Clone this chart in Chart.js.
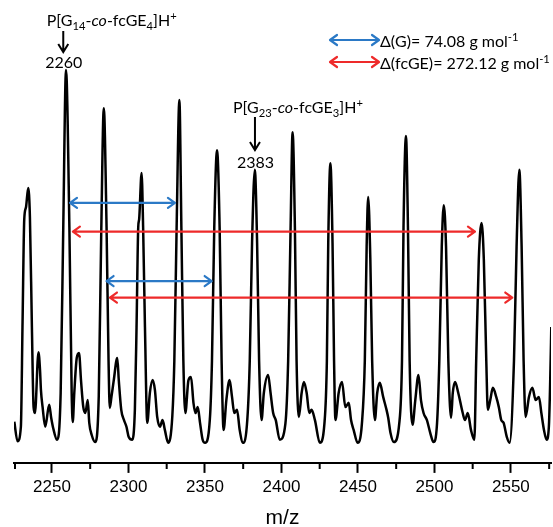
<!DOCTYPE html>
<html>
<head>
<meta charset="utf-8">
<script src="https://cdn.jsdelivr.net/npm/chart.js@4.4.0/dist/chart.umd.min.js"></script>
<style>
  html, body { margin: 0; padding: 0; background: #fff; }
  #wrap { width: 553px; height: 527px; position: relative; }
</style>
</head>
<body>
<div id="wrap"><canvas id="spectrum"></canvas></div>
<script>
// spectrum trace (m/z, relative intensity)
const mzValues = [
  2225.4, 2227.5, 2229.7, 2230.8, 2231.9, 2233.0, 2234.5, 2235.6, 2236.9, 2238.0, 2238.9, 2241.2, 2242.2, 2242.8, 2243.9, 2245.6, 2248.2, 2249.5, 2250.8, 2253.3,
  2255.7, 2257.4, 2259.2, 2261.4, 2262.9, 2263.6, 2264.6, 2266.2, 2267.7, 2269.0, 2270.5, 2271.8, 2273.4, 2274.4, 2276.0, 2278.2,
  2280.6, 2282.2, 2283.9, 2285.7, 2287.0, 2287.8, 2288.9, 2290.4, 2292.7, 2293.7, 2295.3, 2297.0, 2298.7, 2300.2, 2302.5,
  2304.2, 2305.3, 2306.4, 2307.0, 2308.6, 2309.6, 2310.8, 2312.3, 2314.0, 2315.8, 2317.3, 2318.8, 2320.6, 2322.3, 2323.8, 2326.0,
  2328.7, 2330.0, 2331.5, 2333.3, 2334.6, 2335.9, 2337.2, 2339.2, 2340.9, 2342.5, 2343.8, 2345.3, 2346.8, 2348.5, 2350.1,
  2353.2, 2354.6, 2356.1, 2357.9, 2359.6, 2360.9, 2362.2, 2364.0, 2366.1, 2367.7, 2369.2, 2371.0, 2372.7, 2374.9,
  2377.7, 2379.3, 2380.8, 2382.6, 2384.1, 2385.4, 2387.0, 2388.5, 2391.3, 2392.9, 2394.6, 2396.3, 2398.9,
  2402.6, 2404.4, 2406.0, 2407.3, 2408.8, 2409.9, 2411.4, 2413.2, 2414.7, 2416.5, 2418.2, 2419.7, 2421.9, 2425.1,
  2428.1, 2429.7, 2430.6, 2432.0, 2433.4, 2434.4, 2435.3, 2437.4, 2439.6, 2441.8, 2444.0, 2445.5, 2447.2, 2449.8,
  2452.6, 2454.5, 2455.7, 2456.7, 2458.1, 2459.3, 2461.1, 2462.6, 2464.3, 2466.5, 2468.7, 2469.8, 2471.3, 2473.5,
  2477.0, 2478.8, 2479.8, 2481.4, 2482.7, 2483.8, 2485.7, 2487.5, 2489.6, 2491.2, 2492.9, 2495.1, 2497.3, 2499.4,
  2501.7, 2503.2, 2504.8, 2506.1, 2507.6, 2509.1, 2510.9, 2512.0, 2513.5, 2515.6, 2518.5, 2520.0, 2521.8, 2523.9, 2526.1,
  2527.3, 2529.0, 2530.8, 2532.3, 2533.9, 2534.9, 2536.5, 2538.2, 2540.4, 2542.1, 2543.7, 2545.2, 2547.3, 2549.1,
  2552.0, 2553.7, 2555.5, 2557.0, 2558.3, 2559.6, 2561.8, 2564.0, 2566.2, 2568.3, 2569.9, 2571.6, 2573.3, 2574.8, 2576.4, 2577.5
];
const intensity = [
  10.5, 5.5, 9.2, 36, 62, 65, 70, 62.6, 34.6, 14.2, 12.7, 28.2, 23.7, 18.6, 14.2, 9.2, 14.8, 11.5, 8.9, 5.9,
  17.8, 60, 100, 60, 17.8, 10.4, 17.8, 26.7, 28, 21, 14.2, 12.7, 16, 10.2, 7.1, 5.3,
  17, 58, 90.3, 60, 26, 14, 16.8, 21, 26.7, 21, 13.5, 11, 9.2, 6.6, 5.9,
  13.5, 34.6, 60, 62, 73.8, 60, 34.6, 10.2, 17.8, 21.1, 18.6, 11.7, 9.2, 10.9, 8.4, 5.1,
  12, 26, 60, 92.4, 60, 26, 12.7, 21, 21.9, 15.3, 12.7, 14.2, 10.2, 5.9, 5.1,
  11, 26, 60, 79.6, 60, 26, 8.4, 16, 21.1, 16.8, 12.7, 13.5, 8.4, 5.1,
  11, 26, 56, 74.6, 56, 26, 10.9, 17.8, 22.4, 17.8, 12.7, 10.9, 5.9,
  10, 26, 60, 84.2, 60, 26, 11.7, 17.8, 20.6, 17.8, 12.7, 13.5, 10.9, 5.1,
  10, 26, 56, 76.3, 56, 26, 10.9, 17.8, 20.6, 14.2, 15.3, 10.9, 8.4, 5.1,
  10, 26, 55, 67.7, 52, 26, 10.9, 17.8, 20.4, 16.8, 13.5, 11.5, 7.6, 5.3,
  10, 26, 60, 83.2, 60, 26, 9.7, 16, 22.4, 16, 12.7, 10.9, 7.6, 5.3,
  10, 26, 55, 65.6, 55, 26, 11.5, 17.8, 20.6, 17.8, 12.7, 10.9, 12.7, 8.4, 5.9,
  26, 51.7, 61.1, 51.7, 26, 13.5, 16, 19.1, 16.8, 14.2, 10.9, 10.2, 6.6, 5.1,
  26, 55, 74.6, 55, 26, 11.7, 16.8, 19.1, 16, 16.8, 12.7, 8.4, 5.9, 9.2, 34.6, 60
];

const tickValues = [2250, 2300, 2350, 2400, 2450, 2500, 2550];
const minorTickValues = [2225, 2275, 2325, 2375, 2425, 2475, 2525, 2575];

// spacing arrows between peaks
const gapArrowStart = [2261.8, 2263.7, 2285.7, 2287.9];
const gapArrowEnd = [2330.4, 2526.5, 2354.4, 2550.9];
const gapArrowLevel = [66.2, 58.9, 46.3, 42.1];
const gapArrowUnit = ['G', 'fcGE', 'G', 'fcGE'];

// labelled peaks
const peakLabelMz = [2257.4, 2382.7];
const peakLabelValue = ['2260', '2383'];

const BLUE = '#2B79C6';
const RED = '#EE2A2A';
const unitColor = { G: BLUE, fcGE: RED };
const ANNO_FONT = 'Lato, "Open Sans", sans-serif';

function drawRich(ctx, parts, x, y, size) {
  parts.forEach(p => {
    const small = p.sub || p.sup;
    const fs = small ? size * 0.7 : size;
    ctx.font = (p.italic ? 'italic ' : '') + fs + 'px ' + ANNO_FONT;
    const dy = p.sub ? size * 0.22 : p.sup ? -size * 0.36 : 0;
    ctx.fillText(p.t, x, y + dy);
    x += ctx.measureText(p.t).width;
  });
}

function drawDoubleArrow(ctx, x1, x2, y, color) {
  ctx.save();
  ctx.strokeStyle = color;
  ctx.lineWidth = 2.2;
  ctx.lineCap = 'round';
  ctx.lineJoin = 'round';
  ctx.beginPath();
  ctx.moveTo(x1, y); ctx.lineTo(x2, y);
  ctx.moveTo(x1 + 7, y - 5); ctx.lineTo(x1, y); ctx.lineTo(x1 + 7, y + 5);
  ctx.moveTo(x2 - 7, y - 5); ctx.lineTo(x2, y); ctx.lineTo(x2 - 7, y + 5);
  ctx.stroke();
  ctx.restore();
}

function drawDownArrow(ctx, x, y1, y2) {
  ctx.save();
  ctx.strokeStyle = '#000';
  ctx.lineWidth = 2;
  ctx.beginPath();
  ctx.moveTo(x, y1); ctx.lineTo(x, y2);
  ctx.moveTo(x - 5, y2 - 8); ctx.lineTo(x, y2); ctx.lineTo(x + 5, y2 - 8);
  ctx.stroke();
  ctx.restore();
}

const annotations = {
  id: 'annotations',
  afterDraw(chart) {
    const ctx = chart.ctx;
    const xs = chart.scales.x, ys = chart.scales.y;
    const area = chart.chartArea;

    // minor ticks
    ctx.save();
    ctx.strokeStyle = '#000';
    ctx.lineWidth = 2;
    ctx.beginPath();
    minorTickValues.forEach(v => {
      let px = xs.getPixelForValue(v);
      px = Math.min(Math.max(px, area.left + 1), area.right - 1);
      ctx.moveTo(px, area.bottom); ctx.lineTo(px, area.bottom + 6);
    });
    ctx.stroke();
    ctx.restore();

    // gap arrows
    gapArrowStart.forEach((s, i) => {
      drawDoubleArrow(ctx, xs.getPixelForValue(s), xs.getPixelForValue(gapArrowEnd[i]),
        ys.getPixelForValue(gapArrowLevel[i]), unitColor[gapArrowUnit[i]]);
    });

    ctx.save();
    ctx.fillStyle = '#000';
    ctx.textBaseline = 'alphabetic';

    // peak labels
    const labelParts = [
      [{t: 'P[G'}, {t: '14', sub: true}, {t: '-'}, {t: 'co', italic: true}, {t: '-fcGE'}, {t: '4', sub: true}, {t: ']H'}, {t: '+', sup: true}],
      [{t: 'P[G'}, {t: '23', sub: true}, {t: '-'}, {t: 'co', italic: true}, {t: '-fcGE'}, {t: '3', sub: true}, {t: ']H'}, {t: '+', sup: true}]
    ];
    const labelLayout = [
      {dx: -16.5, textY: 26, a1: 31, a2: 52, numY: 68},
      {dx: -22, textY: 113, a1: 117, a2: 150, numY: 168}
    ];
    peakLabelMz.forEach((m, i) => {
      const px = xs.getPixelForValue(m);
      const L = labelLayout[i];
      ctx.textAlign = 'left';
      drawRich(ctx, labelParts[i], px + L.dx, L.textY, 16);
      drawDownArrow(ctx, px, L.a1, L.a2);
      ctx.textAlign = 'center';
      ctx.font = '16px ' + ANNO_FONT;
      ctx.fillText(peakLabelValue[i], px + 0.5, L.numY);
    });

    // key, top right
    ctx.textAlign = 'left';
    drawDoubleArrow(ctx, 330, 379, 40, BLUE);
    drawDoubleArrow(ctx, 330, 379, 62, RED);
    drawRich(ctx, [{t: '\u0394(G)= 74.08 g mol'}, {t: '-1', sup: true}], 380, 47, 16);
    drawRich(ctx, [{t: '\u0394(fcGE)= 272.12 g mol'}, {t: '-1', sup: true}], 380, 69, 16);
    ctx.restore();
  }
};

new Chart(document.getElementById('spectrum'), {
  type: 'line',
  data: {
    datasets: [{
      data: mzValues.map((m, i) => ({x: m, y: intensity[i]})),
      borderColor: '#000',
      borderWidth: 2.5,
      pointRadius: 0,
      fill: false,
      cubicInterpolationMode: 'monotone'
    }]
  },
  options: {
    responsive: true,
    maintainAspectRatio: false,
    animation: false,
    events: [],
    layout: { padding: { left: 14, right: 2, top: 10, bottom: 1 } },
    plugins: { legend: { display: false }, tooltip: { enabled: false } },
    scales: {
      x: {
        type: 'linear',
        min: 2225.2,
        max: 2576.2,
        afterBuildTicks: s => { s.ticks = tickValues.map(v => ({value: v})); },
        ticks: {
          color: '#000',
          font: { family: '"Liberation Sans", Arial, sans-serif', size: 17 },
          padding: 4,
          maxRotation: 0,
          autoSkip: false,
          callback: v => String(v)
        },
        grid: { display: true, drawOnChartArea: false, drawTicks: true, tickLength: 10, tickWidth: 2, color: '#000', tickColor: '#000' },
        border: { display: true, color: '#000', width: 2 },
        title: {
          display: true,
          text: 'm/z',
          color: '#000',
          font: { family: '"Liberation Sans", Arial, sans-serif', size: 21, lineHeight: 0.7 },
          padding: { top: 10, bottom: 0 }
        }
      },
      y: { display: false, min: 0, max: 115.3 }
    }
  },
  plugins: [annotations]
});
</script>
</body>
</html>
